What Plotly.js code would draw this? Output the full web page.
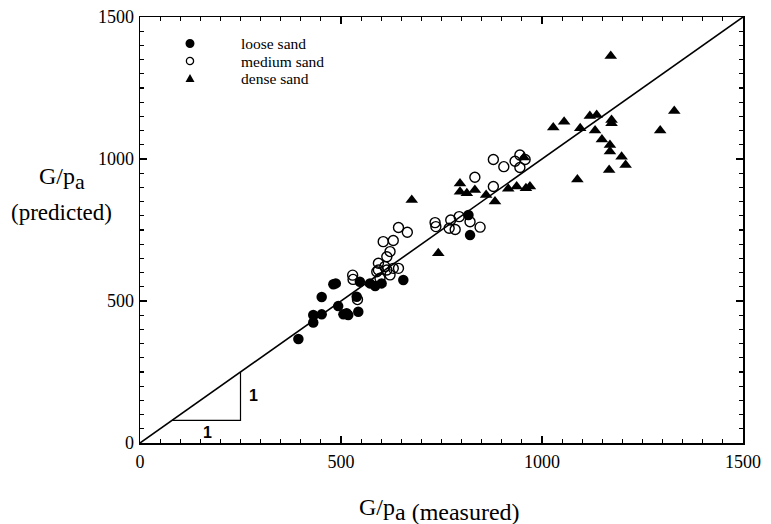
<!DOCTYPE html>
<html>
<head>
<meta charset="utf-8">
<script src="https://cdn.plot.ly/plotly-3.0.1.min.js"></script>
<style>html,body{margin:0;padding:0;background:#fff;}#chart{width:771px;height:524px;}</style>
</head>
<body>
<div id="chart"></div>
<script>
// Loose sand (measured, predicted)
var looseX = [394, 431, 452, 431, 452, 481, 487, 493, 506, 518, 514, 543, 539, 547, 572, 585, 601, 655, 817, 821];
var looseY = [366, 451, 453, 424, 514, 559, 562, 482, 453, 451, 457, 462, 515, 568, 562, 553, 562, 574, 803, 732];
// Medium sand
var mediumX = [529, 530, 541, 589, 593, 597, 614, 622, 630, 643, 609, 593, 614, 622, 605, 630, 643, 665, 734, 736, 769, 773, 784, 794, 821, 846, 833, 879, 905, 933, 945, 945, 958, 879];
var mediumY = [591, 576, 505, 603, 609, 580, 609, 592, 615, 615, 621, 633, 656, 674, 709, 713, 759, 742, 776, 762, 756, 785, 752, 797, 779, 760, 936, 998, 973, 992, 1014, 970, 998, 903];
// Dense sand
var denseX = [676, 742, 796, 796, 813, 833, 861, 883, 916, 937, 960, 970, 955, 1028, 1055, 1095, 1119, 1136, 1173, 1173, 1132, 1149, 1169, 1169, 1198, 1208, 1167, 1088, 1294, 1329, 1171];
var denseY = [856, 668, 914, 885, 879, 891, 873, 850, 895, 903, 897, 903, 1005, 1111, 1131, 1108, 1151, 1155, 1137, 1126, 1100, 1069, 1049, 1026, 1008, 979, 961, 928, 1100, 1169, 1363];
// 1:1 line
var lineX = [0, 1500];
var lineY = [0, 1500];
// slope triangle corners
var triX = [80, 250, 250];
var triY = [80, 80, 250];
var tickVals = [0, 500, 1000, 1500];
var tickText = ['0', '500', '1000', '1500'];
var seriesNames = ['loose sand', 'medium sand', 'dense sand'];

var serif = '"Liberation Serif", "Times New Roman", Times, serif';
var sans = '"Liberation Sans", Arial, sans-serif';
var black = '#000';

var traces = [
  {x: lineX, y: lineY, mode: 'lines', line: {color: black, width: 1.6}, showlegend: false, hoverinfo: 'skip'},
  {x: looseX, y: looseY, mode: 'markers', name: seriesNames[0], showlegend: false,
   marker: {symbol: 'circle', size: 10.5, color: black, line: {width: 0}}},
  {x: mediumX, y: mediumY, mode: 'markers', name: seriesNames[1], showlegend: false,
   marker: {symbol: 'circle-open', size: 10, color: black, line: {width: 1.4, color: black}}},
  {x: denseX, y: denseY, mode: 'markers', name: seriesNames[2], showlegend: false,
   marker: {symbol: 'triangle-up', size: 11, color: black, line: {width: 0}}}
];

var axisCommon = {
  range: [0, 1500], autorange: false,
  tickmode: 'array', tickvals: tickVals, ticktext: tickText,
  ticks: 'inside', ticklen: 7, tickwidth: 1.3, tickcolor: black,
  minor: {dtick: 50, ticks: 'inside', ticklen: 4, tickwidth: 1.1, tickcolor: black, showgrid: false},
  showline: true, linecolor: black, linewidth: 1.5, mirror: 'ticks',
  showgrid: false, zeroline: false,
  tickfont: {family: serif, size: 18, color: black}
};

// legend built from shapes + annotations (paper coords)
var legMarkX = 0.0829, legTextX = 0.1658;
var legY = [0.9378, 0.8967, 0.8556];

var shapes = [
  {type: 'path', xref: 'x', yref: 'y',
   path: 'M' + triX[0] + ',' + triY[0] + ' L' + triX[1] + ',' + triY[1] + ' L' + triX[2] + ',' + triY[2],
   line: {color: black, width: 1.2}},
  {type: 'circle', xref: 'paper', yref: 'paper', xsizemode: 'pixel', ysizemode: 'pixel',
   xanchor: legMarkX, yanchor: legY[0], x0: -4.5, x1: 4.5, y0: -4.5, y1: 4.5,
   fillcolor: black, line: {width: 0}},
  {type: 'circle', xref: 'paper', yref: 'paper', xsizemode: 'pixel', ysizemode: 'pixel',
   xanchor: legMarkX, yanchor: legY[1], x0: -3.6, x1: 3.6, y0: -3.6, y1: 3.6,
   fillcolor: 'rgba(0,0,0,0)', line: {width: 1.3, color: black}},
  {type: 'path', xref: 'paper', yref: 'paper', xsizemode: 'pixel', ysizemode: 'pixel',
   xanchor: legMarkX, yanchor: legY[2], path: 'M-4.5,-3.5 L4.5,-3.5 L0,4.5 Z',
   fillcolor: black, line: {width: 0}}
];

var subA = '<sub><span style="font-size:22px">a</span></sub>';
var annotations = [
  {xref: 'x', yref: 'y', x: 167, y: 38, text: '<b>1</b>', showarrow: false,
   font: {family: sans, size: 16, color: black}},
  {xref: 'x', yref: 'y', x: 282, y: 168, text: '<b>1</b>', showarrow: false,
   font: {family: sans, size: 16, color: black}},
  {xref: 'paper', yref: 'paper', x: 0.4975, y: -0.157, xanchor: 'center', yanchor: 'middle',
   text: 'G/p<sub><span style="font-size:24px">a (measured)</span></sub>', showarrow: false,
   font: {family: serif, size: 24, color: black}},
  {xref: 'paper', yref: 'paper', x: -0.13, y: 0.62, xanchor: 'center', yanchor: 'middle',
   text: 'G/p' + subA, showarrow: false,
   font: {family: serif, size: 24, color: black}},
  {xref: 'paper', yref: 'paper', x: -0.13, y: 0.54, xanchor: 'center', yanchor: 'middle',
   text: '(predicted)', showarrow: false,
   font: {family: serif, size: 23, color: black}}
];
for (var i = 0; i < seriesNames.length; i++) {
  annotations.push({xref: 'paper', yref: 'paper', x: legTextX, y: legY[i], xanchor: 'left', yanchor: 'middle',
    borderpad: 0,
    text: seriesNames[i], showarrow: false, font: {family: serif, size: 15.5, color: black}});
}

var layout = {
  width: 771, height: 524,
  margin: {l: 140, r: 28, t: 17, b: 81},
  paper_bgcolor: '#fff', plot_bgcolor: '#fff',
  font: {family: serif, color: black},
  xaxis: Object.assign({}, axisCommon, {ticklabelstandoff: 2}),
  yaxis: Object.assign({}, axisCommon, {ticklabelstandoff: 1}),
  showlegend: false,
  shapes: shapes,
  annotations: annotations
};

Plotly.newPlot('chart', traces, layout, {displayModeBar: false, staticPlot: true});
</script>
</body>
</html>
